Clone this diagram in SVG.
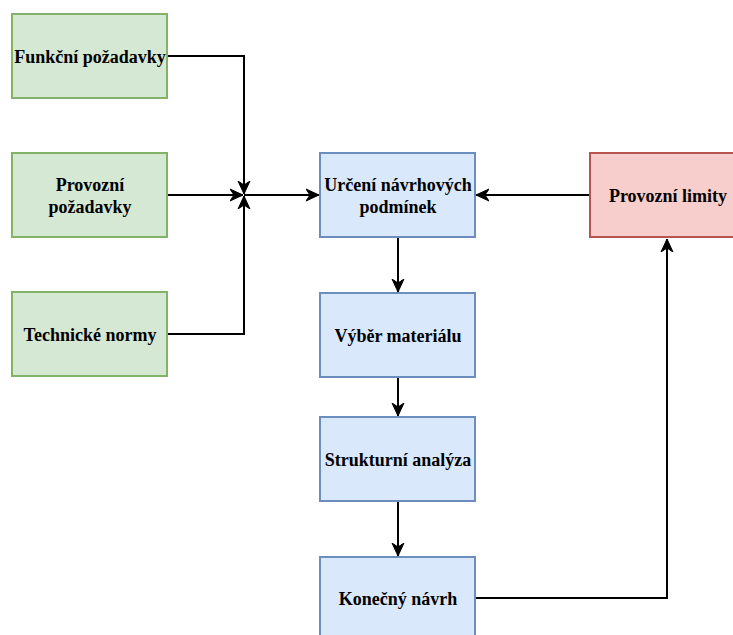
<svg xmlns="http://www.w3.org/2000/svg" width="733" height="635" viewBox="0 0 733 635">
<defs>
<style>
.g{fill:#d5e8d4;stroke:#82b366;stroke-width:2}
.b{fill:#dae8fc;stroke:#6c8ebf;stroke-width:2}
.r{fill:#f8cecc;stroke:#b85450;stroke-width:2}
text{font-family:"Liberation Serif","Times New Roman",serif;font-weight:bold;font-size:18px;fill:#000;text-anchor:middle}
.e{fill:none;stroke:#000;stroke-width:2;marker-end:url(#a)}
</style>
<marker id="a" markerUnits="userSpaceOnUse" markerWidth="14" markerHeight="14" viewBox="0 0 14 14" refX="13" refY="7" orient="auto">
<path d="M0,1 L13,7 L0,13 L4,7 z" fill="#000" stroke="#000" stroke-width="1"/>
</marker>
</defs>
<g id="connectors">
<path class="e" d="M167,56 H244 V194"/>
<path class="e" d="M167,195 H243"/>
<path class="e" d="M167,334 H244 V196"/>
<path class="e" d="M244,195 H319"/>
<path class="e" d="M590,195 H476"/>
<path class="e" d="M398,238 V292"/>
<path class="e" d="M398,377 V416"/>
<path class="e" d="M398,502 V556"/>
<path class="e" d="M475,598 H667 V239"/>
</g>
<g id="n1"><rect class="g" x="12" y="14" width="155" height="84"/><text x="90" y="63">Funkční požadavky</text></g>
<g id="n2"><rect class="g" x="12" y="153" width="155" height="84"/><text x="90" y="191">Provozní</text><text x="90" y="213">požadavky</text></g>
<g id="n3"><rect class="g" x="12" y="292" width="155" height="84"/><text x="90" y="341">Technické normy</text></g>
<g id="n4"><rect class="b" x="320" y="153" width="155" height="84"/><text x="398" y="191">Určení návrhových</text><text x="398" y="213">podmínek</text></g>
<g id="n5"><rect class="r" x="590" y="153" width="155" height="84"/><text x="668" y="202">Provozní limity</text></g>
<g id="n6"><rect class="b" x="320" y="293" width="155" height="84"/><text x="398" y="342">Výběr materiálu</text></g>
<g id="n7"><rect class="b" x="320" y="417" width="155" height="84"/><text x="398" y="466">Strukturní analýza</text></g>
<g id="n8"><rect class="b" x="320" y="557" width="155" height="84"/><text x="398" y="605">Konečný návrh</text></g>
</svg>
